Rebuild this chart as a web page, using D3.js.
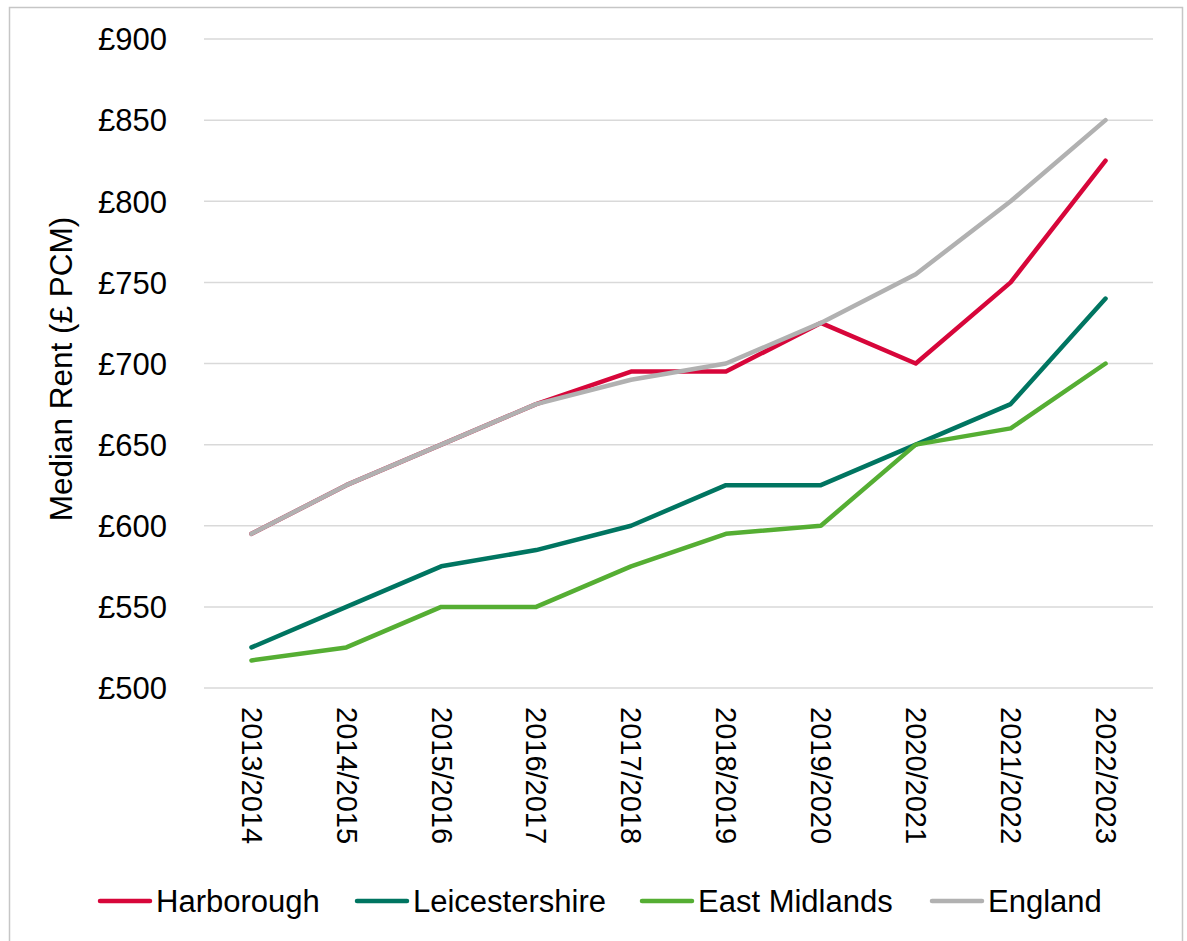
<!DOCTYPE html>
<html>
<head>
<meta charset="utf-8">
<style>
    body { margin: 0; background: #fff; }
    text { font-family: "Liberation Sans", Arial, sans-serif; fill: #000; }
</style>
</head>
<body>
<script src="https://d3js.org/d3.v7.min.js"></script>
<script>
    const years = ["2013/2014", "2014/2015", "2015/2016", "2016/2017", "2017/2018",
        "2018/2019", "2019/2020", "2020/2021", "2021/2022", "2022/2023"];
    const harborough = [595, 625, 650, 675, 695, 695, 725, 700, 750, 825];
    const leicestershire = [525, 550, 575, 585, 600, 625, 625, 650, 675, 740];
    const eastMidlands = [517, 525, 550, 550, 575, 595, 600, 650, 660, 700];
    const england = [595, 625, 650, 675, 690, 700, 725, 755, 800, 850];
    const seriesNames = ["Harborough", "Leicestershire", "East Midlands", "England"];
    const seriesColors = ["#d7063a", "#007561", "#55ae33", "#b1b1b1"];
    const yTicks = [500, 550, 600, 650, 700, 750, 800, 850, 900];

    const width = 1187;
    const height = 941;
    const plot = { left: 204, right: 1153, top: 39, bottom: 688 };

    const svg = d3.select("body")
        .append("svg")
        .attr("width", width)
        .attr("height", height);

    // outer chart border
    svg.append("rect")
        .attr("x", 9.5).attr("y", 7.5)
        .attr("width", 1173).attr("height", 945)
        .attr("fill", "none")
        .attr("stroke", "#c6c6c6")
        .attr("stroke-width", 1.5);

    const xScale = d3.scalePoint()
        .domain(years)
        .range([plot.left, plot.right])
        .padding(0.5);

    const yScale = d3.scaleLinear()
        .domain([500, 900])
        .range([plot.bottom, plot.top]);

    // gridlines
    svg.append("g")
        .selectAll("line")
        .data(yTicks)
        .enter()
        .append("line")
        .attr("x1", plot.left)
        .attr("x2", plot.right)
        .attr("y1", d => yScale(d))
        .attr("y2", d => yScale(d))
        .attr("stroke", "#d9d9d9")
        .attr("stroke-width", 1.5);

    const yAxis = d3.axisLeft(yScale)
        .tickValues(yTicks)
        .tickFormat(d => "£" + d)
        .tickSize(0)
        .tickPadding(0);

    const yG = svg.append("g")
        .attr("transform", "translate(167,0)")
        .call(yAxis);
    yG.select(".domain").remove();
    yG.selectAll("text")
        .attr("font-size", 31)
        .attr("font-family", "Liberation Sans, Arial, sans-serif")
        .attr("dy", "0.35em");

    const xAxis = d3.axisBottom(xScale).tickSize(0).tickPadding(0);
    const xG = svg.append("g")
        .attr("transform", "translate(0," + (plot.bottom + 19) + ")")
        .call(xAxis);
    xG.select(".domain").remove();
    xG.selectAll("text")
        .attr("font-size", 29)
        .attr("font-family", "Liberation Sans, Arial, sans-serif")
        .attr("y", 0)
        .attr("dy", "0.35em")
        .attr("text-anchor", "start")
        .attr("transform", "rotate(90)");

    // y axis title
    svg.append("text")
        .attr("transform", "translate(72,369) rotate(-90)")
        .attr("text-anchor", "middle")
        .attr("font-size", 31.5)
        .text("Median Rent (£ PCM)");

    const allSeries = [harborough, leicestershire, eastMidlands, england];

    const line = d3.line()
        .x((d, i) => xScale(years[i]))
        .y(d => yScale(d));

    svg.append("g")
        .selectAll("path")
        .data(allSeries)
        .enter()
        .append("path")
        .attr("d", d => line(d))
        .attr("fill", "none")
        .attr("stroke", (d, i) => seriesColors[i])
        .attr("stroke-width", 4.5)
        .attr("stroke-linejoin", "round")
        .attr("stroke-linecap", "round");

    // legend
    const legendX = [98, 355, 640, 930];
    const legend = svg.append("g")
        .selectAll("g")
        .data(seriesNames)
        .enter()
        .append("g")
        .attr("transform", (d, i) => "translate(" + legendX[i] + ",901)");

    legend.append("line")
        .attr("x1", 2).attr("x2", 52)
        .attr("y1", 0).attr("y2", 0)
        .attr("stroke", (d, i) => seriesColors[i])
        .attr("stroke-width", 4.5)
        .attr("stroke-linecap", "round");

    legend.append("text")
        .attr("x", 58)
        .attr("dy", "0.35em")
        .attr("font-size", 31)
        .text(d => d);
</script>
</body>
</html>
